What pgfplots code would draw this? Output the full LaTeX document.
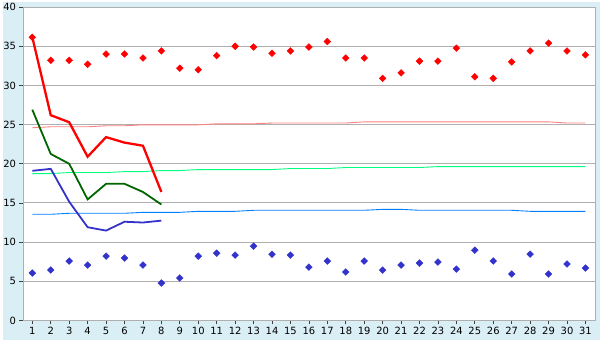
\documentclass[border=0pt]{standalone}
\usepackage{pgfplots}
\pgfplotsset{compat=1.18}
\usetikzlibrary{backgrounds}
\usepackage{fontspec}
\setmainfont{DejaVu Sans}
\definecolor{bg}{HTML}{DAEEF5}
\definecolor{gridgray}{HTML}{AFAFAF}
\definecolor{salmon}{HTML}{FF8080}
\definecolor{spring}{HTML}{00FF80}
\definecolor{azure}{HTML}{0080FF}
\definecolor{dgreen}{HTML}{006600}
\definecolor{mblue}{HTML}{3333CC}
\begin{document}
\begin{tikzpicture}
\begin{axis}[name=ax, anchor=south west, at={(0pt,0pt)}, scale only axis,
  width=574.5pt, height=315pt,
  xmin=0.52, xmax=31.52, ymin=0, ymax=40,
  xtick={1,...,31}, ytick={0,5,...,40},
  axis background/.style={fill=white},
  ymajorgrids, grid style={color=gridgray, line width=0.9pt},
  axis line style={gridgray, line width=0.9pt},
  tick style={black!75, line width=0.7pt},
  tick align=outside, major tick length=4pt,
  xtick pos=bottom, ytick pos=left,
  ticklabel style={font=\fontsize{10}{12}\selectfont},
  /pgf/number format/assume math mode=true,
  xticklabel style={yshift=1pt},
]
% thin trend lines
\addplot[salmon, line width=0.9pt, mark=none] coordinates {
(1,24.6)(2,24.72)(3,24.72)(4,24.72)(5,24.85)(6,24.85)(7,24.97)(8,24.97)(9,24.97)(10,24.97)
(11,25.1)(12,25.1)(13,25.1)(14,25.2)(15,25.2)(16,25.2)(17,25.2)(18,25.2)(19,25.35)(20,25.35)
(21,25.35)(22,25.35)(23,25.35)(24,25.35)(25,25.35)(26,25.35)(27,25.35)(28,25.35)(29,25.35)(30,25.2)(31,25.2)};
\addplot[spring, line width=0.9pt, mark=none] coordinates {
(1,18.75)(2,18.75)(3,18.88)(4,18.88)(5,18.88)(6,19.0)(7,19.0)(8,19.13)(9,19.13)(10,19.26)
(11,19.26)(12,19.26)(13,19.26)(14,19.26)(15,19.39)(16,19.39)(17,19.39)(18,19.52)(19,19.52)(20,19.52)
(21,19.52)(22,19.52)(23,19.64)(24,19.64)(25,19.64)(26,19.64)(27,19.64)(28,19.64)(29,19.64)(30,19.64)(31,19.64)};
\addplot[azure, line width=0.9pt, mark=none] coordinates {
(1,13.55)(2,13.55)(3,13.68)(4,13.68)(5,13.68)(6,13.68)(7,13.8)(8,13.8)(9,13.8)(10,13.93)
(11,13.93)(12,13.93)(13,14.06)(14,14.06)(15,14.06)(16,14.06)(17,14.06)(18,14.06)(19,14.06)(20,14.18)
(21,14.18)(22,14.06)(23,14.06)(24,14.06)(25,14.06)(26,14.06)(27,14.06)(28,13.93)(29,13.93)(30,13.93)(31,13.93)};
% thick lines
\addplot[dgreen, line width=1.8pt, mark=none] coordinates {
(1,26.9)(2,21.25)(3,20.0)(4,15.45)(5,17.44)(6,17.44)(7,16.4)(8,14.8)};
\addplot[mblue, line width=1.8pt, mark=none] coordinates {
(1,19.1)(2,19.35)(3,15.15)(4,11.9)(5,11.47)(6,12.6)(7,12.5)(8,12.74)};
\addplot[red, line width=2.3pt, mark=none] coordinates {
(1,36.15)(2,26.2)(3,25.3)(4,20.9)(5,23.4)(6,22.7)(7,22.3)(8,16.4)};
% markers
\addplot[only marks, mark=square*, mark size=2.4pt, red, mark options={fill=red, rotate=45}] coordinates {
(1,36.15)(2,33.2)(3,33.2)(4,32.7)(5,34.0)(6,34.0)(7,33.5)(8,34.4)(9,32.2)(10,32.0)
(11,33.8)(12,35.0)(13,34.9)(14,34.1)(15,34.4)(16,34.9)(17,35.6)(18,33.5)(19,33.5)(20,30.9)
(21,31.6)(22,33.1)(23,33.1)(24,34.75)(25,31.1)(26,30.9)(27,33.0)(28,34.4)(29,35.4)(30,34.4)(31,33.9)};
\addplot[only marks, mark=square*, mark size=2.4pt, mblue, mark options={fill=mblue, rotate=45}] coordinates {
(1,6.05)(2,6.43)(3,7.58)(4,7.07)(5,8.21)(6,7.96)(7,7.07)(8,4.78)(9,5.42)(10,8.21)
(11,8.59)(12,8.34)(13,9.48)(14,8.46)(15,8.34)(16,6.81)(17,7.58)(18,6.18)(19,7.58)(20,6.43)
(21,7.07)(22,7.32)(23,7.45)(24,6.56)(25,8.97)(26,7.58)(27,5.93)(28,8.46)(29,5.93)(30,7.2)(31,6.69)};
\end{axis}
\begin{scope}[on background layer]
\fill[bg] ([shift={(-20.5pt,-20pt)}]ax.south west) rectangle ++(600pt,340pt);
\end{scope}
\end{tikzpicture}
\end{document}
